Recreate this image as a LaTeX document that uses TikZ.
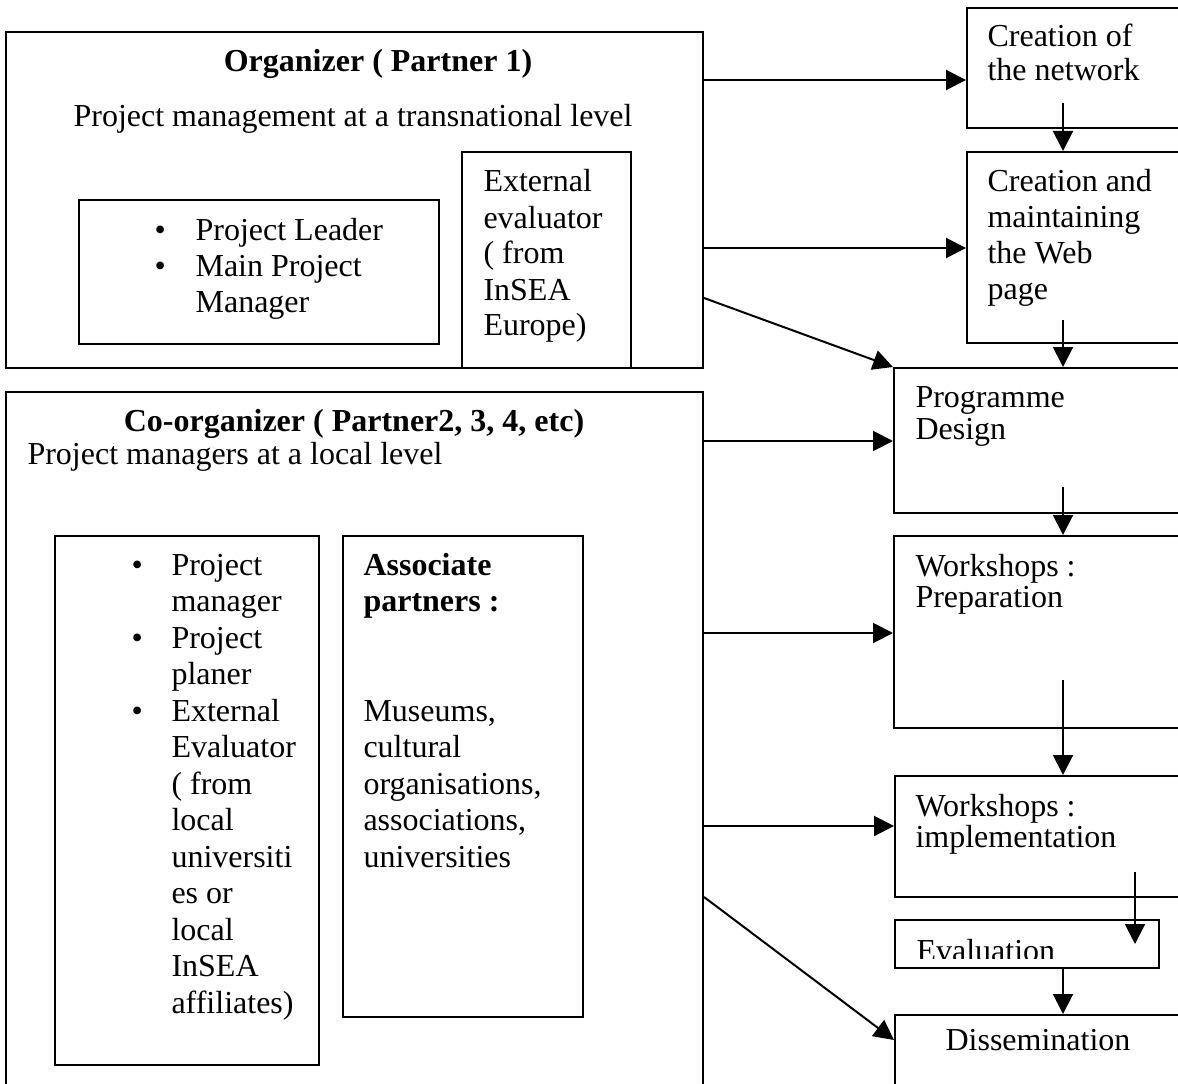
\documentclass[tikz,border=0pt]{standalone}
\usepackage{fontspec}
\setmainfont{Liberation Serif}
\usetikzlibrary{arrows.meta,fit}
\newcommand{\mylines}[1]{\begin{tabular}[t]{@{}l@{}}#1\end{tabular}}
\newcommand{\mybul}[2]{\begin{tabular}[t]{@{}p{#1}@{}l@{}}#2\end{tabular}}
\begin{document}
\begin{tikzpicture}[x=0.375pt,y=-0.375pt,
  box/.style={draw, line width=0.75pt, inner sep=0pt},
  txt/.style={inner sep=0pt, anchor=base west, font=\fontsize{12pt}{13.7pt}\selectfont},
  arr/.style={line width=0.75pt, -{Triangle[length=7.5pt,width=7.5pt]}}]
\useasboundingbox (0,0) rectangle (1178,1084);
\clip (0,0) rectangle (1178,1084);

% left boxes
\node[box, fit={(6,32)(703,368)}] (org) {};
\node[box, fit={(79,200)(439,344)}] (lead) {};
\node[box, fit={(462,152)(631,368)}] (exev) {};
\node[box, fit={(6,392)(703,1110)}] (coorg) {};
\node[box, fit={(55,536)(319,1065)}] (loc) {};
\node[box, fit={(343,536)(583,1017)}] (asso) {};

% right column
\node[box, fit={(967,8)(1210,128)}] (net) {};
\node[box, fit={(967,152)(1210,343)}] (web) {};
\node[box, fit={(894,368)(1210,513)}] (prog) {};
\node[box, fit={(894,536)(1210,728)}] (prep) {};
\node[box, fit={(895,776)(1210,897)}] (impl) {};
\node[box, fit={(895,920)(1159,968)}] (evalb) {};
\node[box, fit={(895,1015)(1210,1110)}] (diss) {};

% texts left
\node[txt, anchor=base] (orgT) at (378,72) {\textbf{Organizer ( Partner 1)}};
\node[txt, anchor=base] (orgS) at (353,127) {Project management at a transnational level};
\node[txt, font=\fontsize{12pt}{13.5pt}\selectfont] (leadT) at (154,240)
  {\mybul{15.4pt}{\textbullet & Project Leader\\ \textbullet & Main Project\\ {} & Manager}};
\node[txt, font=\fontsize{12pt}{13.5pt}\selectfont] (exevT) at (483,192)
  {\mylines{External\\evaluator\\( from\\InSEA\\Europe)}};
\node[txt, anchor=base] (coorgT) at (354,431) {\textbf{Co-organizer ( Partner2, 3, 4, etc)}};
\node[txt] (coorgS) at (27,464) {Project managers at a local level};
\node[txt] (locT) at (131,575)
  {\mybul{15pt}{\textbullet & Project\\ {} & manager\\ \textbullet & Project\\ {} & planer\\ \textbullet & External\\ {} & Evaluator\\ {} & ( from\\ {} & local\\ {} & universiti\\ {} & es or\\ {} & local\\ {} & InSEA\\ {} & affiliates)}};
\node[txt] (assoT) at (363,575)
  {\mylines{\textbf{Associate}\\\textbf{partners :}\\{}\\{}\\Museums,\\cultural\\organisations,\\associations,\\universities}};

% texts right
\node[txt, font=\fontsize{12pt}{12.4pt}\selectfont] (netT) at (987,47) {\mylines{Creation of\\the network}};
\node[txt, font=\fontsize{12pt}{13.4pt}\selectfont] (webT) at (987,192) {\mylines{Creation and\\maintaining\\the Web\\page}};
\node[txt, font=\fontsize{12pt}{12pt}\selectfont] (progT) at (915,407) {\mylines{Programme\\Design}};
\node[txt, font=\fontsize{12pt}{11.7pt}\selectfont] (prepT) at (915,576) {\mylines{Workshops :\\Preparation}};
\node[txt, font=\fontsize{12pt}{11.7pt}\selectfont] (implT) at (915,816) {\mylines{Workshops :\\implementation}};
\begin{scope}
  \clip (895,920) rectangle (1159,958);
  \node[txt] (evalT) at (916,961) {Evaluation};
\end{scope}
\node[txt, anchor=base] (dissT) at (1038,1050) {Dissemination};

% horizontal / diagonal arrows
\draw[arr] (org.east |- 0,80) -- (net.west |- 0,80);
\draw[arr] (org.east |- 0,248) -- (web.west |- 0,248);
\draw[arr] (org.east |- 0,298) -- (prog.north west);
\draw[arr] (coorg.east |- 0,441) -- (prog.west |- 0,441);
\draw[arr] (coorg.east |- 0,633) -- (prep.west |- 0,633);
\draw[arr] (coorg.east |- 0,826) -- (impl.west |- 0,826);
\draw[arr] (coorg.east |- 0,897) -- (diss.west |- 0,1040);

% vertical arrows
\coordinate (v1) at (1063,103);
\coordinate (v2) at (1063,320);
\coordinate (v3) at (1063,487);
\coordinate (v4) at (1063,680);
\coordinate (v5) at (1135,872);
\draw[arr] (v1) -- (v1 |- web.north);
\draw[arr] (v2) -- (v2 |- prog.north);
\draw[arr] (v3) -- (v3 |- prep.north);
\draw[arr] (v4) -- (v4 |- impl.north);
\draw[arr] (v5) -- (v5 |- evalb.center);
\draw[arr] (evalb.south -| 1063,0) -- (diss.north -| 1063,0);
\end{tikzpicture}
\end{document}
